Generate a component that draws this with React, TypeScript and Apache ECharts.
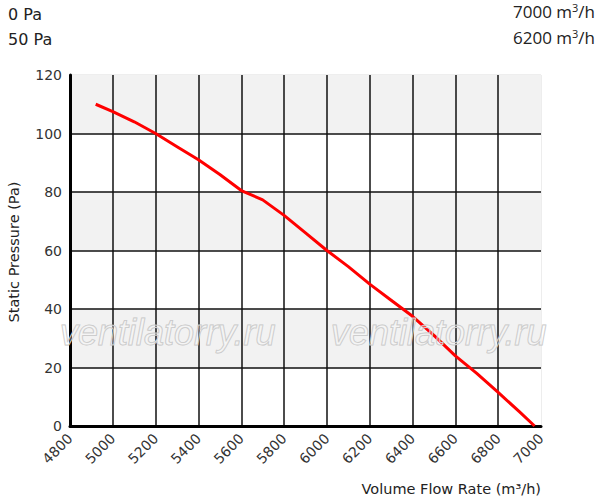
import React, { useEffect, useRef } from "react";
import * as echarts from "echarts";

const flowRates = [4920, 5000, 5100, 5200, 5300, 5400, 5500, 5600, 5700, 5800, 5900, 6000, 6100, 6200, 6300, 6400, 6500, 6600, 6700, 6800, 6900, 6970];
const pressures = [110, 107.5, 104, 100, 95.5, 91, 86, 80.5, 77.3, 72, 66, 60, 54.5, 48.5, 43, 37.5, 31, 24, 18, 11.5, 4.8, 0];
const headerLeft = ["0 Pa", "50 Pa"];
const headerRightNumbers = ["7000", "6200"];
const watermark = "ventilatorry.ru";

export default function App() {
  const ref = useRef<HTMLDivElement>(null);
  useEffect(() => {
    if (!ref.current) return;
    const chart = echarts.init(ref.current, undefined, { renderer: "svg" });
    const font = "DejaVu Sans";
    const wmStyle = {
      text: watermark,
      font: "italic 36px 'Liberation Sans', Arial, sans-serif",
      fill: "rgba(255,255,255,0.3)",
      stroke: "#c4c4c4",
      lineWidth: 1,
    };
    const rich = {
      n: { font: "17px 'Open Sans'", fill: "#222", verticalAlign: "bottom" },
      s: { font: "11px 'Open Sans'", fill: "#222", verticalAlign: "top", padding: [0, 0, 7, 0] },
    };
    chart.setOption({
      animation: false,
      backgroundColor: "#fff",
      grid: {
        left: 70,
        top: 75,
        right: 56,
        bottom: 75,
        show: true,
        borderColor: "#dcdcdc",
        borderWidth: 1,
        backgroundColor: "transparent",
      },
      xAxis: {
        type: "value",
        min: 4800,
        max: 7000,
        interval: 200,
        axisLine: { show: true, onZero: false, lineStyle: { color: "#000", width: 3 } },
        axisTick: { show: false },
        splitLine: { show: true, showMinLine: false, showMaxLine: false, lineStyle: { color: "#111", width: 1.5 } },
        axisLabel: { rotate: 45, fontFamily: font, fontSize: 14, color: "#333", margin: 10, formatter: (v: number) => String(v) },
      },
      yAxis: {
        type: "value",
        min: 0,
        max: 120,
        interval: 20,
        axisLine: { show: true, onZero: false, lineStyle: { color: "#000", width: 3 } },
        axisTick: { show: false },
        splitLine: { show: true, showMinLine: false, showMaxLine: false, lineStyle: { color: "#111", width: 1.5 } },
        splitArea: { show: true, areaStyle: { color: ["#ffffff", "#f2f2f2"] } },
        axisLabel: { fontFamily: font, fontSize: 14, color: "#333", margin: 8 },
      },
      graphic: [
        { type: "text", left: 8, top: 6, style: { text: headerLeft[0], font: `16px '${font}'`, fill: "#222" } },
        { type: "text", left: 8, top: 31, style: { text: headerLeft[1], font: `16px '${font}'`, fill: "#222" } },
        { type: "text", right: 2, top: 2, style: { text: `{n|${headerRightNumbers[0]} m}{s|3}{n|/h}`, rich } },
        { type: "text", right: 2, top: 28, style: { text: `{n|${headerRightNumbers[1]} m}{s|3}{n|/h}`, rich } },
        {
          type: "text", x: 14, y: 252, rotation: Math.PI / 2,
          style: { text: "Static Pressure (Pa)", font: `14.5px '${font}'`, fill: "#222", align: "center", verticalAlign: "middle" },
        },
        {
          type: "text", x: 541, y: 489,
          style: { text: "Volume Flow Rate (m³/h)", font: `14.5px '${font}'`, fill: "#222", align: "right", verticalAlign: "middle" },
        },
        { type: "text", x: 60, y: 332, z: 10, style: { ...wmStyle, align: "left", verticalAlign: "middle" } },
        { type: "text", x: 331, y: 332, z: 10, style: { ...wmStyle, align: "left", verticalAlign: "middle" } },
      ],
      series: [
        {
          type: "line",
          data: flowRates.map((f, i) => [f, pressures[i]]),
          showSymbol: false,
          symbol: "none",
          lineStyle: { color: "#ff0000", width: 3 },
          z: 5,
        },
      ],
    });
    return () => chart.dispose();
  }, []);
  return <div ref={ref} style={{ position: "fixed", left: 0, top: 0, width: 597, height: 501 }} />;
}
